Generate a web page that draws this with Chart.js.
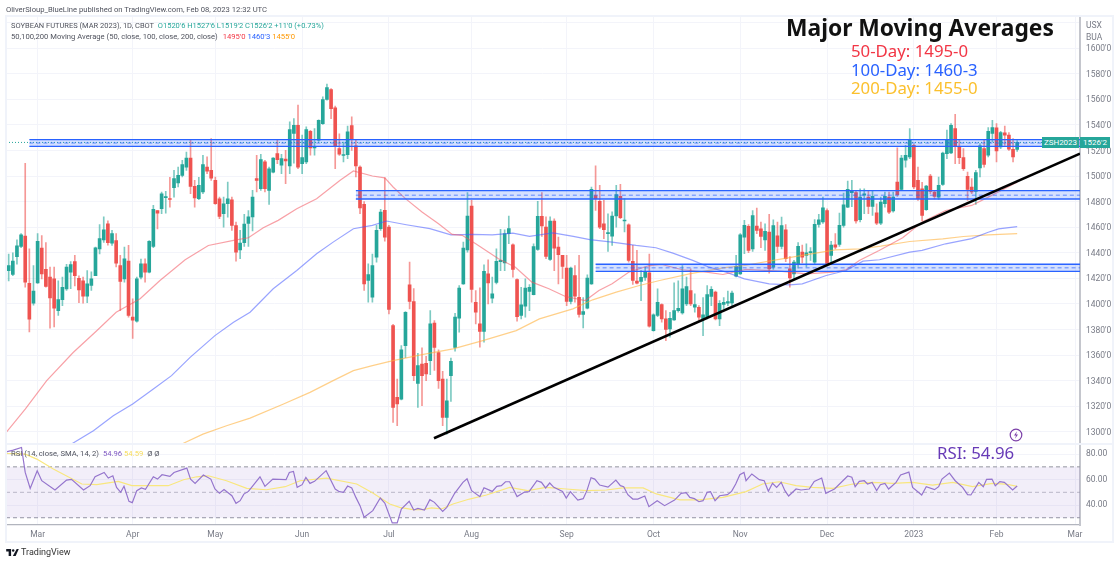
<!DOCTYPE html>
<html>
<head>
<meta charset="utf-8">
<title>Soybean futures</title>
<script src="https://cdn.jsdelivr.net/npm/chart.js@4"></script>
<style>
  html, body { margin: 0; padding: 0; background: #fff; }
  #wrap { position: relative; width: 1120px; height: 564px; overflow: hidden; font-family: Roboto, sans-serif; }
  canvas { position: absolute; left: 0; top: 0; }
  .t { position: absolute; white-space: nowrap; line-height: 1; }
  .small { font-size: 7.65px; color: #50535e; }
  .big { font-family: "Noto Sans", sans-serif; font-size: 16.8px; }
  .frame { position: absolute; background: #f0f3fa; }
</style>
</head>
<body>
<div id="wrap">
  <canvas id="chart" width="1120" height="564"></canvas>
  <div class="frame" style="left:5px;top:15px;width:1109px;height:2px"></div>
  <div class="frame" style="left:5px;top:15px;width:2px;height:528px"></div>
  <div class="frame" style="left:1112px;top:15px;width:2px;height:528px"></div>
  <div class="frame" style="left:5px;top:541px;width:1109px;height:2px"></div>
  <div class="frame" style="left:6px;top:443px;width:1107px;height:2px"></div>

  <div class="t small" style="left:6px;top:5.5px">OliverSloup_BlueLine published on TradingView.com, Feb 08, 2023 12:32 UTC</div>
  <div class="t small" style="left:11px;top:22px;font-size:7.5px">SOYBEAN FUTURES (MAR 2023), 1D, CBOT <span style="margin-left:2px;color:#26a69a">O1520'6 H1527'6 L1519'2 C1526'2 +11'0 (+0.73%)</span></div>
  <div class="t small" style="left:11px;top:33px">50,100,200 Moving Average (50, close, 100, close, 200, close) <span style="margin-left:3px;color:#f23645">1495'0</span> <span style="color:#2962ff">1460'3</span> <span style="color:#ff9800">1455'0</span></div>
  <div class="t small" style="left:11px;top:450px">RSI (14, close, SMA, 14, 2) <span style="margin-left:2px;color:#7e57c2">54.96</span> <span style="color:#f7dc5c">54.59</span> <span style="margin-left:2px">Ø Ø</span></div>

  <div class="t" style="left:786px;top:17px;font-family:'Noto Sans',sans-serif;font-weight:700;font-size:22.8px;color:#111">Major Moving Averages</div>
  <div class="t big" style="left:851px;top:43px;color:#f23645">50-Day: 1495-0</div>
  <div class="t big" style="left:851px;top:62px;color:#2962ff">100-Day: 1460-3</div>
  <div class="t big" style="left:851px;top:80px;color:#fbc02d">200-Day: 1455-0</div>
  <div class="t big" style="left:937px;top:445px;color:#673ab7">RSI: 54.96</div>

  <div class="t" style="left:1042px;top:137px;width:37px;height:11px;line-height:11px;background:#26a69a;color:#fff;font-size:8px;text-align:center">ZSH2023</div>
  <div class="t" style="left:1080px;top:137px;width:30px;height:11px;line-height:11px;background:#26a69a;color:#fff;font-size:8px;text-align:center">1526'2</div>

  <svg style="position:absolute;left:1009px;top:428px" width="14" height="14" viewBox="0 0 14 14">
    <circle cx="7" cy="7" r="5.8" fill="#fff" stroke="#7b3fa8" stroke-width="1.2"/>
    <path d="M8 3.2 L5 7.6 H7 L6 10.8 L9 6.4 H7 Z" fill="#7b3fa8"/>
  </svg>
  <svg style="position:absolute;left:6px;top:549px" width="13" height="7" viewBox="0 0 36 20">
    <path d="M0 0 H14 V20 H7 V7 H0 Z M30 0 H36 L27 20 H19 Z" fill="#131722"/>
    <circle cx="20" cy="4" r="3.5" fill="#131722"/>
  </svg>
  <div class="t" style="left:21px;top:548px;font-size:9px;color:#333">TradingView</div>
  <div class="t" style="left:1086px;top:21px;color:#787b86;font-size:8.5px">USX</div>
  <div class="t" style="left:1086px;top:33px;color:#787b86;font-size:8.5px">BUA</div>
</div>

<script>
// Valeurs, une par seance (Z S H 2023)
const opens = [
  1426,1423,1437,1445,1453,1416,1400.5,1416.5,1443.6,1427,
  1421,1419.6,1394.8,1403.4,1411.8,1424.8,1433,1420,1418,1406,
  1414.4,1422,1443,1450,1462.7,1447.5,1449.6,1430,1419.6,1433.4,
  1389.6,1386.4,1420.9,1431.4,1424.8,1445,1473,1474.4,1483,1482.3,
  1490.9,1494.5,1500.5,1507,1514,1491.9,1482.2,1487.5,1507,1504.4,
  1496.6,1482.2,1470.5,1478.3,1481.4,1461.3,1442.3,1447.8,1463,1468,
  1497.9,1490,1511,1488.8,1503,1517.5,1508.4,1513.3,1507.8,1533.2,
  1539.7,1509.6,1511,1535,1522,1528,1541,1559.8,1567.6,1553.3,
  1521.4,1516,1516.7,1539.4,1523.5,1507,1477.8,1418.3,1405.2,1436.6,
  1458.8,1473.1,1460,1383,1327,1325.6,1367.4,1414.9,1401.9,1337.9,
  1353,1353.5,1355.6,1385,1362,1341.3,1311.2,1343.9,1366,1388.8,
  1415.7,1442.3,1476.5,1401.3,1384.4,1378.4,1423.5,1404.5,1416.7,1433,
  1432.1,1454.9,1446.2,1419.1,1390.9,1398.2,1409.7,1407.3,1442.6,1468.4,
  1460,1434.8,1464.8,1444.4,1437.9,1428,1401.9,1422.2,1405.2,1391.7,
  1396.6,1415.7,1484.6,1480.2,1462.7,1455,1453,1468.7,1484.1,1464.8,
  1461.9,1433.2,1417.8,1417.5,1420.7,1424.3,1379.1,1390.9,1399.5,1388.3,
  1380.4,1387.5,1394.8,1393,1400,1410.5,1397.4,1397.4,1388.3,1389.6,
  1405.8,1409.2,1388.3,1399.5,1400.5,1400.8,1421.7,1423.5,1452.2,1460.6,
  1443,1460.8,1458.7,1450.1,1456.1,1428.7,1453.3,1444.9,1458,1427.4,
  1423.5,1431.4,1440.5,1438,1440,1432.7,1462.1,1464,1473,1438,
  1446.2,1446.5,1461.4,1475.7,1487,1487,1465.8,1485,1483.5,1476.2,
  1471.3,1463.2,1478.3,1483.5,1472.6,1495.3,1489.6,1512.3,1514.9,1524,
  1496.6,1490,1473.6,1500,1487.5,1483.5,1493.5,1517.5,1518,1537,
  1523.2,1514.4,1499.7,1491.4,1488,1506.3,1521.4,1516.2,1533.2,1537.6,
  1522.7,1533.7,1531.9,1520.9,1520.75
];
const highs = [
  1439,1440,1450,1455,1510,1443,1430,1455,1453.5,1448,
  1428.7,1428.7,1418,1421,1431,1433,1438,1422,1421,1426,
  1425,1444.4,1462,1468,1465,1457.5,1454.9,1437.9,1444.4,1445.7,
  1404,1421,1435,1435.3,1449.6,1477,1473,1487.5,1488,1499,
  1504.4,1507,1512.3,1518.8,1527.9,1496.6,1499,1516.2,1514.9,1529.2,
  1499.2,1483.5,1483.5,1495.3,1483.5,1464,1457.5,1470,1473,1488.8,
  1516.2,1517,1512.3,1507,1514.5,1528.5,1517,1520,1542.3,1544.9,
  1555.4,1531.9,1538.4,1535.8,1537,1544,1561.9,1571.8,1568.4,1554.6,
  1533,1526.6,1539,1546.2,1528,1508,1480,1431.4,1439,1461.4,
  1473.9,1498.5,1461.4,1384,1341.3,1367.4,1394,1432.7,1412,1361.4,
  1365.6,1359,1394.8,1387,1364,1347.3,1341.3,1357.7,1392.7,1414.4,
  1448.3,1487,1481,1410.5,1412.6,1430.6,1434.5,1420.9,1443,1458.3,
  1458,1468.7,1447,1419.6,1413,1419.6,1415.2,1447,1480.2,1487,
  1468,1468,1466.6,1452.2,1438,1437.9,1428.7,1430,1437.9,1405,
  1422.7,1491.4,1507.9,1492.7,1481,1470.5,1472,1492.7,1493.5,1482.3,
  1462.7,1445.7,1441.8,1426,1428.7,1439,1392.2,1411.8,1400,1394.8,
  1393.5,1416.5,1418,1430,1421,1427.5,1407.9,1398.7,1405,1414.4,
  1413.6,1410,1402.6,1405,1410,1410,1438,1454.9,1465.3,1462,
  1473,1475,1464,1462.7,1470,1465.8,1464,1467.9,1462,1437,
  1434,1448,1446,1447,1444,1466,1470,1483.5,1474.4,1449,
  1455,1471,1486.7,1496,1496.6,1488.8,1490,1490,1488.8,1488.3,
  1478.3,1483.5,1487.5,1487.5,1487.5,1522,1516.2,1524,1537,1524.8,
  1507,1495,1492.7,1501.3,1488,1499.2,1518.8,1536,1541,1548.3,
  1528,1521.4,1503,1498,1504.4,1525.3,1528,1537.9,1543.6,1541,
  1535,1539,1534,1529.2,1527.75
];
const lows = [
  1418,1422,1431,1444,1413,1378,1399,1416,1419.6,1413,
  1381,1382,1391,1398.7,1410.5,1412,1414,1401,1400.5,1401,
  1410.5,1422,1439,1448,1446,1445.7,1429,1394.8,1417,1389.6,
  1373,1385.7,1419.6,1417,1424.3,1444,1458.7,1470.5,1471,1475.7,
  1483.5,1491.4,1499.2,1504.4,1486.2,1475.7,1481.4,1486.2,1501.8,1496.6,
  1477.8,1466.6,1460,1467.9,1457.5,1433.4,1435.3,1445,1445,1457,
  1487.5,1488.8,1487.5,1477.8,1502.4,1509.6,1501.8,1494,1501.8,1510,
  1505.7,1501.8,1509.6,1516.2,1516.2,1527,1540.4,1559.3,1544.9,1505.7,
  1516,1511,1513.6,1520,1499.2,1470.5,1410.5,1401.3,1401.3,1432.7,
  1457.5,1449,1392.2,1307.3,1304.7,1325,1358,1396,1340,1319,
  1320.4,1340,1344.7,1348,1334,1304.7,1298.2,1323.8,1363,1377.8,
  1415.2,1440.5,1401.3,1384.4,1366.1,1370,1400,1400.8,1415.7,1426,
  1426,1447,1420.9,1386.5,1388.3,1389.6,1394.8,1407,1441.8,1452.8,
  1435.3,1433.9,1426,1415.7,1420,1398.7,1400,1401.3,1389.6,1381.2,
  1396.1,1415.2,1473,1458.8,1451,1441,1445.7,1460,1466.6,1456.2,
  1432.7,1415.2,1415.7,1402.6,1418.3,1381.8,1378.6,1390,1385.7,1371.3,
  1373.9,1387,1393.5,1392,1398.7,1398.7,1393.5,1387,1375.2,1388.3,
  1398.7,1387.5,1383,1396,1398.7,1398.7,1421,1423,1439.2,1440,
  1441,1455,1444,1441.8,1424,1427,1440,1443,1433,1413,
  1419.6,1428,1432,1429,1434,1431,1460,1463,1430,1432,
  1443,1445,1460,1475.2,1476,1463.2,1464,1470.5,1470.5,1469.2,
  1462,1462,1475.7,1470.5,1471.8,1484,1488.8,1507,1513.6,1490,
  1481,1465,1473,1486.2,1482,1481.7,1492.7,1513.6,1517.5,1509.6,
  1509.6,1504.4,1481,1486.2,1477.8,1499.2,1507,1514.9,1526.6,1511,
  1521.4,1524,1520,1511,1519.25
];
const closes = [
  1430,1433.5,1445.5,1454,1417,1388,1410,1449,1423.5,1413.6,
  1404.7,1396.6,1403.4,1413,1428.7,1430.8,1422,1411,1406,1415.7,
  1419.6,1443.9,1451,1458,1447.8,1455,1431.9,1417.5,1435.3,1390.9,
  1387.2,1419.6,1431.4,1424.8,1448.9,1473.9,1471,1486,1484,1481.6,
  1497.9,1500.5,1509,1514,1491.9,1482.8,1492.7,1508.9,1503.7,1498.4,
  1478.3,1468.4,1478.3,1482.2,1461.3,1440.5,1447.5,1462.5,1468,1483.5,
  1496.6,1512.8,1490,1505.7,1514,1512.8,1513.6,1511.7,1536.3,1539.7,
  1507,1514.4,1536.3,1521.9,1522.5,1543.6,1559.8,1569.2,1552.7,1523.2,
  1517,1516.5,1534.5,1528.5,1507.8,1475,1415.7,1423,1430,1457.5,
  1471.8,1452.2,1395.6,1319,1321.7,1364,1393.5,1401.9,1343.9,1351.7,
  1343.9,1345.2,1384.4,1366,1340,1311.2,1324.3,1355,1389.6,1412.3,
  1443.6,1468.7,1411.3,1393.5,1378.4,1425.4,1416.5,1407.9,1433.2,1434,
  1454.9,1458.8,1427,1390.1,1399.2,1412.3,1413,1444.9,1468.4,1460.9,
  1437.1,1464.8,1443.6,1438.4,1429.3,1401.9,1428,1406,1391.7,1394,
  1420.1,1489.6,1482.3,1460,1458,1455.5,1468.7,1485.4,1467.4,1465,
  1434,1418.3,1416.2,1420.7,1424.8,1382.5,1391.4,1401.3,1388.3,1380,
  1388.8,1394.8,1396.6,1411.8,1413.6,1400,1399.5,1389.6,1391.4,1407.3,
  1411.3,1388.3,1400.5,1401.3,1401.9,1408.4,1429.3,1454,1461.4,1441.8,
  1469,1457.4,1452.7,1456.7,1427.4,1461.3,1444.9,1461.3,1435.3,1420.4,
  1432.7,1445,1436.6,1440,1441,1462.2,1465.8,1475.2,1431.4,1446,
  1444.4,1461.4,1477.5,1489.6,1488.8,1464.8,1483.5,1486,1476.2,1484.1,
  1463.2,1479.6,1484.1,1471.8,1483.5,1485.4,1514.1,1516.2,1528.5,1491.4,
  1482.2,1469.2,1492.2,1488,1484.1,1492.7,1518,1528,1539.7,1523.5,
  1514.4,1505.7,1489.6,1487.5,1502.6,1523.5,1509.1,1535,1537.9,1519.6,
  1533.9,1531.9,1520.9,1514.9,1526.25
];

// Moyennes mobiles: sommets (indice de seance, prix)
const ma50Idx = [-0.6,4,9.2,15.6,21.3,26,31.8,36.6,42.7,48.3,54.4,58,61.6,65.2,69.7,74.5,80.2,83.4,88,91,93,96,100,104,107.3,109.7,113,118.5,122.6,126.6,130.7,134.7,139.5,142.8,146,150,155,158,163,168.8,172.8,178.4,186.5,193,199.4,202.6,205.8,210.6,216.3,221,226.7,233,237,243.6,244];
const ma50Val = [1299.5,1317.8,1340,1362,1379,1393.5,1404,1418.3,1434.5,1445.7,1449.6,1451.7,1459.6,1465.3,1474.4,1482.2,1496.6,1503.9,1500,1498.5,1491.4,1482.3,1471.8,1462.7,1454.3,1453.6,1447,1435.3,1428.7,1417,1411.8,1405.8,1402.6,1410.5,1415.7,1424.8,1430,1430.8,1426.7,1424.8,1423,1427,1425.6,1423.5,1424.8,1426.7,1434,1441.8,1451.7,1464,1473,1477,1483.5,1494.5,1495];
const ma100Idx = [15.2,20.5,25.3,30,35,39.4,43.9,49.9,54.4,58.4,64,69.7,74.5,78.5,83.4,88,91.4,96.2,101.9,107,112.3,117,122,126,131.7,136.6,140.6,146,151.8,156.6,160.7,165.5,169.5,173.6,178,184,189,192,197.8,202.6,206.7,210.7,218,221,226.7,233,237,239.5,244];
const ma100Val = [1290.4,1300.8,1312.6,1321.7,1333.4,1343.9,1358.2,1375.2,1385.7,1393.5,1411.8,1426.1,1439.2,1448.3,1458.8,1461.4,1464.8,1461.9,1458.8,1454,1454.3,1454,1455.4,1452.8,1455.6,1452.8,1450.2,1448.3,1445.7,1443.9,1439.7,1434,1428.7,1424.8,1419.6,1415.7,1414.9,1415.7,1422.2,1426.1,1433.4,1434.5,1440.5,1441.8,1447,1451,1456,1458.7,1460.4];
const ma200Idx = [41.9,47,52.7,58.4,66.5,72.9,78.5,83.4,88,93,100,107.5,114.7,122.8,128.4,136.5,141.3,147,152.6,157.5,164.7,172.8,178,185,192,200,206,211,218,226,231,237,244];
const ma200Val = [1290.4,1298.2,1304.7,1310.7,1321.7,1330.8,1340,1347.8,1351.7,1355.6,1360.3,1364.8,1371.3,1379.1,1388.3,1396.1,1403.2,1409.2,1414.4,1418.3,1423.5,1428.2,1430,1434,1438,1442.3,1443,1445.2,1448.8,1450.9,1452.7,1454,1455];

// RSI et sa moyenne
const rsiIdx = [-0.6,1.1,3.1,4,5.2,6.9,8,11.2,14,15.2,18.1,19.7,20.9,23.1,24.1,25.2,26.1,27.1,27.9,29.1,29.9,31,32.1,33.1,35,36,37.1,39,40,43.1,44,45.1,47.1,48.9,49.9,51,52.1,54,55,56,56.9,58,60.8,62,63.9,67.1,67.9,68.9,69.8,71,71.9,72.9,74,76.8,79,80,81,82,83,84,85,86,88.1,89.9,91,92.8,94,95,96.9,98,99,100.6,101.9,103,105,106,107.9,109.9,110.9,112,114,115,117,118.1,119.2,120.2,121.2,123,124.8,125.9,127.8,128.9,129.9,130.9,131.9,134,134.9,135.9,137.7,139,139.9,140.9,141.8,143,145,146.9,148,148.8,149.8,151,152.2,153.9,154.9,156.9,158.7,161.1,162.7,163.9,164.8,165.9,167,168,169,169.8,170.9,172,173.9,174.9,175.9,176.9,177.9,178.4,179.8,181.6,182.8,183.8,184.8,185.8,186.9,187.8,188.7,190.5,191.7,193.7,194.9,196.7,197.7,199.8,203,204,204.8,205.8,207,207.8,208.9,210,210.9,212,212.9,214.7,215.8,217.8,218.7,220.9,222,224,225,225.8,227.6,229,230.8,232,232.8,234.7,235.8,236.6,237.9,238.7,239.8,240.9,242.9,244];
const rsiVal = [81.8,83.2,85.2,65.6,53.1,67,59.1,51.8,59.6,60.2,51.8,55.2,62.2,65.6,61.2,63,53.9,50,54.7,42.9,41.9,51.3,53.4,52.3,62.2,60.4,63.8,62.5,65.6,69,60.4,57,63.6,60.4,52.6,49.2,52.1,47.3,41.3,43.4,48.6,50.7,62.2,54.7,60.4,59.9,65.6,66.4,53.9,56,61.7,57,58.6,67,52.6,50.5,50,54.9,53.4,46,39.5,30.4,35.6,45.5,41.6,25.9,25.9,36.9,42.9,36.1,37.4,36.1,44.2,42.1,35,38.2,49.2,57.8,60.7,51.3,46.6,53.6,50.7,54.7,55.2,58.3,58.3,46.6,50.2,50.5,59.1,57.8,53.4,57.3,53.9,50.7,45.5,50.5,43.9,45,51.3,61.5,60.4,55.7,54.1,59.6,55.2,54.4,48.1,44.7,44.7,47.1,38.7,43.4,39.5,43.9,49.2,49.7,46,45,42.6,43.4,50,50.5,43.4,47.3,48.1,50.7,56.5,63.8,65.6,59.1,64.4,59.9,59.1,50.8,57.1,53.9,57.8,51.3,47.1,52.6,51.8,52.6,58.6,61.2,49.2,52.6,62.8,61.8,54.4,58.6,59.1,56.5,57.8,51.3,56,57,52.6,57.8,63.6,65.9,53.9,47.9,54.4,52.1,54.4,60.4,65.1,59.1,53.9,48.2,47.9,57.8,54.4,60.2,60.4,55.2,58.4,57.8,51.8,54.96];
const rsiMaIdx = [-0.6,4,6.8,10.8,17.7,21.3,26.5,29.8,33.4,38.6,42.3,45.5,48.3,52.7,57.6,62.4,66.9,70.5,76.9,84.2,88.1,92.2,94.6,97.8,100.2,102.3,104.7,107.5,111.5,115.6,121.2,125.6,130,134.9,139.8,144.6,148.6,153.5,156.7,162.4,167.2,172.8,178.4,182.4,186.4,190.5,194.5,199.4,204.2,209,213.9,218.7,223.5,228.4,233.2,238,241.2,244];
const rsiMaVal = [80.5,80,76.1,68.3,56.5,56,58.6,55.2,55.2,55.2,59.9,62.2,63,59.1,53.1,52,54.4,59.1,61.2,56.5,49.5,40.8,38.2,36.4,36.4,37.7,36.9,40.8,44.7,47.9,53.9,51.3,53.9,52.6,51.3,51.8,53.4,53.4,48.7,44,44,46,50.5,56.5,58.3,55.2,53.9,53.1,56.5,57.8,57,57.8,55.7,57.8,54.4,57,56.5,54.59];

// Zones et droite tracees a la main
const bandStart = [5, 84, 142];
const bandTop = [1528.5, 1488.5, 1431];
const bandMid = [1525.8, 1485, 1428.2];
const bandBottom = [1523.2, 1482, 1425.5];
const trendIdx = [102.9, 259.2];
const trendVal = [1295, 1517.5];
const lastClose = 1526.25;
const rsiLevels = [70, 50, 30];

// Axe du temps
const monthTicks = [7, 30, 50, 71, 92, 112, 135, 156, 177, 198, 219, 239, 258];
const monthLabels = ['Mar', 'Apr', 'May', 'Jun', 'Jul', 'Aug', 'Sep', 'Oct', 'Nov', 'Dec', '2023', 'Feb', 'Mar'];
const xMin = -0.65;
const xMax = 259.2;

const UP = '#26a69a';
const DOWN = '#ef5350';
const GRID = '#f3f4fa';
const LABEL = '#787b86';

const points = (xs, ys) => xs.map((x, i) => ({ x: x, y: ys[i] }));

function priceLine(xs, ys, color, width, yAxisID, extra) {
    return Object.assign({
        type: 'line',
        data: points(xs, ys),
        borderColor: color,
        borderWidth: width,
        pointRadius: 0,
        tension: 0,
        fill: false,
        yAxisID: yAxisID,
        order: 3
    }, extra || {});
}

const datasets = [];

// Bougies: meche + corps
datasets.push({
    type: 'bar',
    data: lows.map((l, i) => ({ x: i, y: [l, highs[i]] })),
    backgroundColor: closes.map((c, i) => c >= opens[i] ? 'rgba(38,166,154,0.6)' : 'rgba(239,83,80,0.6)'),
    barThickness: 1,
    grouped: false,
    yAxisID: 'y',
    order: 6
});
datasets.push({
    type: 'bar',
    data: opens.map((o, i) => ({ x: i, y: [o, closes[i]] })),
    backgroundColor: closes.map((c, i) => c >= opens[i] ? UP : DOWN),
    barThickness: 3,
    minBarLength: 1,
    grouped: false,
    yAxisID: 'y',
    order: 5
});

// Moyennes
datasets.push(priceLine(ma50Idx, ma50Val, 'rgba(242,84,94,0.55)', 1.2, 'y'));
datasets.push(priceLine(ma100Idx, ma100Val, 'rgba(70,90,255,0.55)', 1.2, 'y'));
datasets.push(priceLine(ma200Idx, ma200Val, 'rgba(255,176,60,0.6)', 1.2, 'y'));

// Zones horizontales
bandStart.forEach((start, i) => {
    const xs = [start, xMax];
    datasets.push(priceLine(xs, [bandTop[i], bandTop[i]], '#2962ff', 1.3, 'y', {
        fill: '+1', backgroundColor: 'rgba(41,98,255,0.2)', order: 2
    }));
    datasets.push(priceLine(xs, [bandBottom[i], bandBottom[i]], '#2962ff', 1.3, 'y', { order: 2 }));
    datasets.push(priceLine(xs, [bandMid[i], bandMid[i]], 'rgba(41,98,255,0.7)', 1, 'y', { borderDash: [4, 3], order: 2 }));
});

// Dernier cours
datasets.push(priceLine([xMin, xMax], [lastClose, lastClose], UP, 1, 'y', { borderDash: [1, 2], order: 2 }));

// Droite de tendance
datasets.push(priceLine(trendIdx, trendVal, '#000', 2.6, 'y', { order: 1 }));

// Panneau RSI
datasets.push(priceLine([xMin, xMax], [rsiLevels[0], rsiLevels[0]], '#9598a1', 1, 'rsi', {
    borderDash: [4, 3], fill: { target: { value: rsiLevels[2] } }, backgroundColor: 'rgba(126,87,194,0.1)', order: 4
}));
datasets.push(priceLine([xMin, xMax], [rsiLevels[1], rsiLevels[1]], 'rgba(149,152,161,0.6)', 1, 'rsi', { borderDash: [4, 3], order: 4 }));
datasets.push(priceLine([xMin, xMax], [rsiLevels[2], rsiLevels[2]], '#9598a1', 1, 'rsi', { borderDash: [4, 3], order: 4 }));
datasets.push(priceLine(rsiMaIdx, rsiMaVal, '#f9e77e', 1.2, 'rsi'));
datasets.push(priceLine(rsiIdx, rsiVal, '#9575cd', 1.2, 'rsi', { order: 2 }));

const tickFont = { family: 'Roboto, sans-serif', size: 8.5 };

new Chart(document.getElementById('chart').getContext('2d'), {
    type: 'bar',
    data: { datasets: datasets },
    options: {
        responsive: false,
        animation: false,
        devicePixelRatio: 1,
        layout: { padding: { left: 6, top: 16, right: 7, bottom: 22 } },
        plugins: { legend: { display: false }, tooltip: { enabled: false }, title: { display: false } },
        scales: {
            x: {
                type: 'linear',
                offset: false,
                min: xMin,
                max: xMax,
                afterBuildTicks: scale => { scale.ticks = monthTicks.map(v => ({ value: v })); },
                afterFit: scale => { scale.height = 17; },
                grid: { color: GRID, drawTicks: false, offset: false },
                border: { color: '#b2b5be', width: 1.2 },
                ticks: {
                    autoSkip: false,
                    maxRotation: 0,
                    padding: 5,
                    color: LABEL,
                    font: tickFont,
                    callback: v => monthLabels[monthTicks.indexOf(v)]
                }
            },
            y: {
                type: 'linear',
                position: 'right',
                stack: 'panes',
                stackWeight: 428,
                min: 1289.8,
                max: 1625.1,
                afterFit: scale => { scale.width = 33; },
                grid: { color: GRID, drawTicks: false },
                border: { color: '#c4c6cd', width: 2 },
                ticks: {
                    stepSize: 20,
                    includeBounds: false,
                    padding: 6,
                    labelOffset: 1,
                    color: LABEL,
                    font: tickFont,
                    // le haut de l'axe est occupe par USX / BUA
                    callback: v => v > 1600 ? '' : v + "'0"
                }
            },
            rsi: {
                type: 'linear',
                axis: 'y',
                position: 'right',
                stack: 'panes',
                stackWeight: 80,
                min: 24.3,
                max: 87.3,
                afterFit: scale => { scale.width = 33; },
                grid: { color: GRID, drawTicks: false },
                border: { color: '#c4c6cd', width: 2 },
                ticks: {
                    stepSize: 20,
                    includeBounds: false,
                    padding: 6,
                    color: LABEL,
                    font: tickFont,
                    callback: v => v.toFixed(2)
                }
            }
        }
    }
});
</script>
</body>
</html>
